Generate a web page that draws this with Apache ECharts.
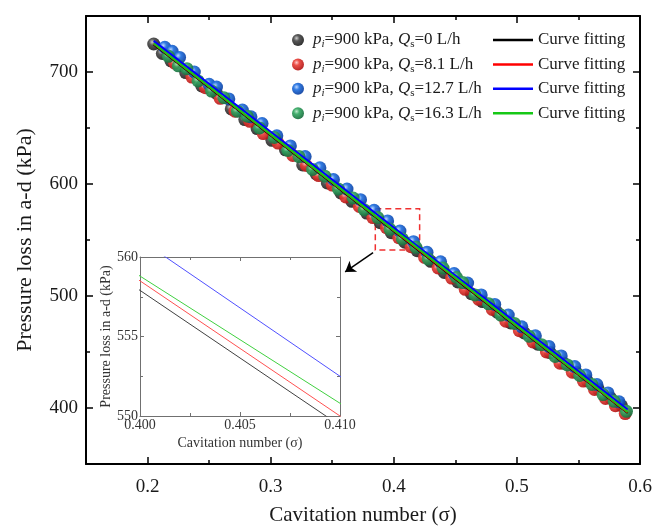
<!DOCTYPE html>
<html><head><meta charset="utf-8">
<script src="https://cdn.jsdelivr.net/npm/echarts@6/dist/echarts.min.js"></script>
<style>html,body{margin:0;padding:0;background:#fff}#c{width:656px;height:531px}</style>
</head><body><div id="c"></div>
<script>
// ---------------- data ----------------
const qsValues = ['0', '8.1', '12.7', '16.3'];

const sigmaBlack = [0.205,0.212,0.219,0.231,0.244,0.256,0.268,0.279,0.289,0.301,0.312,0.326,0.337,0.346,0.357,0.366,0.378,0.389,0.398,0.409,0.419,0.430,0.441,0.452,0.463,0.472,0.484,0.495,0.506,0.517,0.527,0.538,0.548,0.557,0.566,0.576,0.585];
const pBlack     = [725,716.5,710,699.5,687.5,681,667,657.5,649.5,639,630.5,617,609,601,592,584.5,574,565.5,556.5,548,540.5,531,521,512.5,502,495,485.5,476,467,457,449.5,440,432,424.5,417,409,402];

const sigmaRed = [0.222,0.236,0.247,0.259,0.271,0.283,0.294,0.306,0.318,0.329,0.339,0.350,0.361,0.372,0.383,0.394,0.404,0.414,0.425,0.436,0.447,0.458,0.469,0.480,0.491,0.502,0.513,0.524,0.535,0.545,0.554,0.563,0.572,0.580,0.588];
const pRed     = [708,695.5,686,676.5,665,656,645,636.5,625.5,616.5,607.5,599,588.5,580,570,561,552,544,534.5,525,516,506,497,488,477.5,469,459,450,440,432,424,416.5,408.5,402,395];

const sigmaBlue = [0.214,0.220,0.226,0.238,0.250,0.256,0.266,0.277,0.284,0.293,0.305,0.316,0.328,0.340,0.351,0.362,0.373,0.384,0.395,0.405,0.416,0.427,0.438,0.449,0.460,0.471,0.482,0.493,0.504,0.515,0.526,0.536,0.547,0.556,0.565,0.574,0.583];
const pBlue     = [722,718.5,713,700,689,686.5,676,666,660,654,643,634,624.5,614.5,604,595.5,586,576.5,567,558,548.5,539,530.5,520,511.5,501,492.5,483,472.5,464.5,455,446.5,437,429.5,421,413.5,405.5];

const sigmaGreen = [0.217,0.225,0.232,0.241,0.252,0.262,0.273,0.281,0.291,0.303,0.314,0.323,0.334,0.344,0.355,0.367,0.376,0.387,0.397,0.407,0.418,0.428,0.440,0.451,0.456,0.466,0.477,0.487,0.498,0.510,0.520,0.531,0.541,0.551,0.561,0.570,0.579,0.589];
const pGreen     = [714,705.5,703,692,683,677,665,660.5,650,641.5,630,624.5,613,607,595.5,587.5,577,570,559.5,551,543.5,533,525,516.5,512,501,493,483,475.5,464,456.5,446,438.5,429,421,412,406,397];

// fitted curves (read at these sigma values)
const fitSigma = [0.205, 0.30, 0.40, 0.41, 0.50, 0.59];
const fitBlack = [724.6, 643.4, 557.9, 549.4, 472.4, 395.5];
const fitRed   = [725.2, 644.0, 558.5, 550.0, 473.0, 396.1];
const fitBlue  = [727.8, 646.6, 561.1, 552.5, 475.6, 398.7];
const fitGreen = [725.5, 644.3, 558.8, 550.8, 473.3, 396.4];

// tick values
const xMajor = [0.2, 0.3, 0.4, 0.5, 0.6];
const xMinor = [0.25, 0.35, 0.45, 0.55];
const yMajor = [400, 500, 600, 700];
const yMinor = [450, 550, 650];

// annotation (data coordinates)
const zoomBox = [[0.385, 578], [0.421, 541]];
const arrowPts = [[0.3832, 538.7], [0.3605, 521.5]];

// ---------------- chart ----------------
const FONT = '"Liberation Serif", "Times New Roman", serif';
const zip = (a, b) => a.map((v, i) => [v, b[i]]);

function sphere(hi, base, edge) {
  return { type: 'radial', x: 0.38, y: 0.35, r: 0.68,
    colorStops: [{offset: 0, color: hi}, {offset: 0.35, color: base}, {offset: 1, color: edge}] };
}
const sphereColors = [
  sphere('#c8c8c8', '#4a4a4a', '#1e1e1e'),
  sphere('#ffc8c8', '#ea4038', '#b01414'),
  sphere('#b8d4ff', '#2070e0', '#0a3c9c'),
  sphere('#b8e6c6', '#34a862', '#176c3c')
];
const lineColors = ['#000000', '#ff0000', '#0000ff', '#16c816'];
const insetColors = ['#404040', '#ff5050', '#5050ff', '#40d040'];

const scatterData = [zip(sigmaBlack, pBlack), zip(sigmaRed, pRed), zip(sigmaBlue, pBlue), zip(sigmaGreen, pGreen)];
const fitData = [zip(fitSigma, fitBlack), zip(fitSigma, fitRed), zip(fitSigma, fitBlue), zip(fitSigma, fitGreen)];

const mainLine = {show: true, lineStyle: {color: '#000', width: 2}};
const noLine = {show: false};
const insetLine = {show: true, lineStyle: {color: '#707070', width: 1}};

function mainX(position, ticks, len, withLine, withLabel) {
  return {
    type: 'value', gridIndex: 0, position: position, min: 0.15, max: 0.6,
    axisLine: withLine ? mainLine : noLine,
    axisTick: {show: true, inside: true, length: len, customValues: ticks, lineStyle: {color: '#000', width: 1.5}},
    axisLabel: withLabel ? {show: true, customValues: xMajor, margin: 14, fontSize: 19, fontFamily: FONT, color: '#1a1a1a',
      formatter: v => v.toFixed(1)} : {show: false},
    splitLine: {show: false}
  };
}
function mainY(position, ticks, len, withLine, withLabel) {
  return {
    type: 'value', gridIndex: 0, position: position, min: 350, max: 750,
    axisLine: withLine ? mainLine : noLine,
    axisTick: {show: true, inside: true, length: len, customValues: ticks, lineStyle: {color: '#000', width: 1.5}},
    axisLabel: withLabel ? {show: true, customValues: yMajor, margin: 8, fontSize: 19, fontFamily: FONT, color: '#1a1a1a'} : {show: false},
    splitLine: {show: false}
  };
}

const xAxes = [
  Object.assign(mainX('bottom', xMajor, 7, true, true), {
    name: 'Cavitation number (σ)', nameLocation: 'middle', nameGap: 41,
    nameTextStyle: {fontSize: 21, fontFamily: FONT, color: '#1a1a1a'}
  }),
  mainX('bottom', xMinor, 4, false, false),
  mainX('top', xMajor, 7, true, false),
  mainX('top', xMinor, 4, false, false),
  {
    type: 'value', gridIndex: 1, position: 'bottom', min: 0.4, max: 0.41, interval: 0.005,
    axisLine: insetLine,
    axisTick: {show: true, inside: true, length: 4, lineStyle: {color: '#707070'}},
    minorTick: {show: true, splitNumber: 2, length: 3, lineStyle: {color: '#707070'}},
    axisLabel: {show: true, margin: 2, fontSize: 14, fontFamily: FONT, color: '#333', formatter: v => v.toFixed(3)},
    splitLine: {show: false},
    name: 'Cavitation number (σ)', nameLocation: 'middle', nameGap: 20,
    nameTextStyle: {fontSize: 14, fontFamily: FONT, color: '#333'}
  },
  {
    type: 'value', gridIndex: 1, position: 'top', min: 0.4, max: 0.41, interval: 0.005,
    axisLine: insetLine,
    axisTick: {show: true, inside: true, length: 4, lineStyle: {color: '#707070'}},
    minorTick: {show: true, splitNumber: 2, length: 3, lineStyle: {color: '#707070'}},
    axisLabel: {show: false}, splitLine: {show: false}
  }
];
const yAxes = [
  Object.assign(mainY('left', yMajor, 7, true, true), {
    name: 'Pressure loss in a-d (kPa)', nameLocation: 'middle', nameGap: 50,
    nameTextStyle: {fontSize: 22, fontFamily: FONT, color: '#1a1a1a'}
  }),
  mainY('left', yMinor, 4, false, false),
  mainY('right', yMajor, 7, true, false),
  mainY('right', yMinor, 4, false, false),
  {
    type: 'value', gridIndex: 1, position: 'left', min: 550, max: 560, interval: 5,
    axisLine: insetLine,
    axisTick: {show: true, inside: true, length: 4, lineStyle: {color: '#707070'}},
    minorTick: {show: true, splitNumber: 2, length: 3, lineStyle: {color: '#707070'}},
    axisLabel: {show: true, margin: 2, fontSize: 14, fontFamily: FONT, color: '#333'},
    splitLine: {show: false},
    name: 'Pressure loss in a-d (kPa)', nameLocation: 'middle', nameGap: 27,
    nameTextStyle: {fontSize: 14, fontFamily: FONT, color: '#333'}
  },
  {
    type: 'value', gridIndex: 1, position: 'right', min: 550, max: 560, interval: 5,
    axisLine: insetLine,
    axisTick: {show: true, inside: true, length: 4, lineStyle: {color: '#707070'}},
    minorTick: {show: true, splitNumber: 2, length: 3, lineStyle: {color: '#707070'}},
    axisLabel: {show: false}, splitLine: {show: false}
  }
];

const series = [];
for (let k = 0; k < 4; k++) {
  series.push({
    type: 'scatter', name: 's' + k, xAxisIndex: 0, yAxisIndex: 0,
    data: scatterData[k], symbol: 'circle', symbolSize: 13,
    itemStyle: {color: sphereColors[k], opacity: 0.92}, z: 2
  });
}
for (let k = 0; k < 4; k++) {
  const s = {
    type: 'line', name: 'f' + k, xAxisIndex: 0, yAxisIndex: 0,
    data: fitData[k], symbol: 'none', showSymbol: false,
    lineStyle: {color: lineColors[k], width: 2}, itemStyle: {color: lineColors[k]}, z: 4
  };
  if (k === 0) {
    s.markArea = {
      silent: true,
      itemStyle: {color: 'rgba(0,0,0,0)', borderColor: '#f03030', borderWidth: 1.5, borderType: [6, 4]},
      data: [[{coord: zoomBox[0]}, {coord: zoomBox[1]}]]
    };
    s.markLine = {
      silent: true, symbol: ['none', 'arrow'], symbolSize: 10,
      lineStyle: {color: '#000', width: 1.5, type: 'solid'}, label: {show: false},
      data: [[{coord: arrowPts[0], symbol: 'none'}, {coord: arrowPts[1], symbol: 'arrow', symbolSize: 10}]]
    };
  }
  series.push(s);
}
for (let k = 0; k < 4; k++) {
  series.push({
    type: 'line', name: 'inset' + k, xAxisIndex: 4, yAxisIndex: 4, clip: true,
    data: fitData[k], symbol: 'none', showSymbol: false,
    lineStyle: {color: insetColors[k], width: 1}, z: 4
  });
}

const richLegend = {
  it: {fontStyle: 'italic', fontSize: 17, fontFamily: FONT, lineHeight: 20, verticalAlign: 'middle', color: '#1a1a1a'},
  sub: {fontStyle: 'italic', fontSize: 11, fontFamily: FONT, lineHeight: 20, verticalAlign: 'bottom', color: '#1a1a1a'},
  sub2: {fontSize: 11, fontFamily: FONT, lineHeight: 20, verticalAlign: 'bottom', color: '#1a1a1a'},
  t: {fontSize: 17, fontFamily: FONT, lineHeight: 20, verticalAlign: 'middle', color: '#1a1a1a'}
};

const option = {
  animation: false,
  backgroundColor: '#fff',
  grid: [
    {left: 86, top: 16, width: 554, height: 450},
    {left: 140, top: 257, width: 200, height: 159}
  ],
  xAxis: xAxes,
  yAxis: yAxes,
  legend: [
    {
      data: ['s0', 's1', 's2', 's3'], orient: 'vertical', left: 292, top: 30, padding: 0,
      itemWidth: 20, itemHeight: 12, itemGap: 4.4, icon: 'circle',
      formatter: name => {
        const q = qsValues[+name.slice(1)];
        return '{it|p}{sub|i}{t|=900 kPa, }{it|Q}{sub2|s}{t|=' + q + ' L/h}';
      },
      textStyle: {rich: richLegend, fontSize: 17, fontFamily: FONT, lineHeight: 20}
    },
    {
      data: ['f0', 'f1', 'f2', 'f3'], orient: 'vertical', left: 493, top: 30, padding: 0,
      itemWidth: 40, itemHeight: 2.5, itemGap: 4.4, icon: 'rect',
      formatter: () => 'Curve fitting',
      textStyle: {fontSize: 17, fontFamily: FONT, color: '#1a1a1a', lineHeight: 20}
    }
  ],
  series: series
};

const chart = echarts.init(document.getElementById('c'), null, {renderer: 'canvas'});
chart.setOption(option);
</script>
</body></html>
